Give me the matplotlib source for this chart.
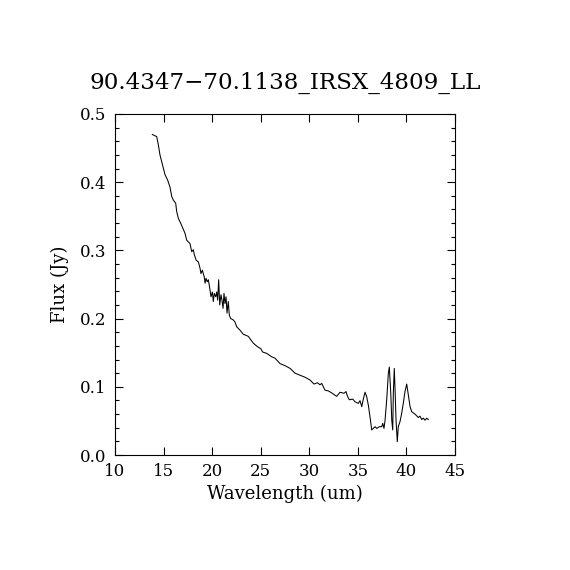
import matplotlib
matplotlib.use("Agg")
import matplotlib.pyplot as plt
from matplotlib.ticker import MultipleLocator

# spectrum
wavelength = [13.84, 14.12, 14.29, 14.46, 14.63, 14.81, 14.97, 15.15, 15.42, 15.66,
              15.84, 16.00, 16.25, 16.35, 16.52, 16.79, 17.21, 17.38, 17.72, 17.90,
              18.06, 18.16, 18.34, 18.58, 18.75, 18.85, 18.99, 19.19, 19.27, 19.37,
              19.50, 19.61, 19.78, 19.88, 20.02, 20.12, 20.22, 20.37, 20.47, 20.57,
              20.67, 20.78, 20.91, 21.01, 21.12, 21.22, 21.32, 21.43, 21.53, 21.66,
              21.77, 21.91, 22.18, 22.35, 22.53, 22.87, 23.21, 23.72, 24.24, 24.65,
              25.00, 25.20, 25.62, 26.13, 26.47, 26.99, 27.50, 28.02, 28.53, 29.04,
              29.56, 30.07, 30.49, 30.83, 31.10, 31.28, 31.62, 31.96, 32.31, 32.82,
              33.16, 33.57, 33.78, 33.92, 34.12, 34.47, 34.71, 35.05, 35.22, 35.40,
              35.56, 35.74, 35.91, 36.08, 36.25, 36.43, 36.59, 36.77, 36.94, 37.21,
              37.46, 37.56, 37.69, 37.80, 37.97, 38.14, 38.24, 38.39, 38.49, 38.59,
              38.65, 38.75, 38.82, 38.93, 39.06, 39.16, 39.34, 39.51, 39.68, 39.85,
              40.03, 40.20, 40.37, 40.54, 40.88, 41.22, 41.40, 41.57, 41.74, 41.91,
              42.09, 42.25]
flux = [0.470, 0.468, 0.467, 0.455, 0.440, 0.430, 0.421, 0.411, 0.403, 0.393,
        0.379, 0.374, 0.369, 0.357, 0.347, 0.339, 0.325, 0.315, 0.310, 0.298,
        0.301, 0.294, 0.286, 0.283, 0.274, 0.266, 0.271, 0.261, 0.252, 0.259,
        0.254, 0.257, 0.242, 0.232, 0.239, 0.225, 0.237, 0.232, 0.239, 0.227,
        0.257, 0.220, 0.235, 0.227, 0.215, 0.237, 0.222, 0.232, 0.208, 0.225,
        0.205, 0.200, 0.198, 0.195, 0.188, 0.183, 0.177, 0.174, 0.164, 0.159,
        0.156, 0.151, 0.149, 0.144, 0.142, 0.134, 0.131, 0.127, 0.120, 0.117,
        0.114, 0.110, 0.104, 0.106, 0.103, 0.105, 0.095, 0.094, 0.091, 0.086,
        0.092, 0.0905, 0.093, 0.0865, 0.081, 0.082, 0.078, 0.0756, 0.0797, 0.0709,
        0.082, 0.092, 0.0855, 0.073, 0.056, 0.0367, 0.039, 0.0415, 0.039, 0.0415,
        0.0415, 0.0465, 0.039, 0.051, 0.081, 0.120, 0.129, 0.090, 0.051, 0.0367,
        0.090, 0.127, 0.100, 0.051, 0.0195, 0.0415, 0.049, 0.061, 0.076, 0.093,
        0.104, 0.088, 0.071, 0.0635, 0.060, 0.055, 0.057, 0.052, 0.054, 0.051,
        0.054, 0.052]

title = "90.4347\u221270.1138_IRSX_4809_LL"

plt.rcParams['font.family'] = ['DejaVu Serif']

fig = plt.figure(figsize=(5.7, 5.7), dpi=100)
ax = fig.add_axes([115/570, 115/570, 340/570, 341/570])

ax.plot(wavelength, flux, color='black', linewidth=0.75)

ax.set_xlim(10, 45)
ax.set_ylim(0, 0.5)
ax.xaxis.set_major_locator(MultipleLocator(5))
ax.yaxis.set_major_locator(MultipleLocator(0.1))
ax.yaxis.set_minor_locator(MultipleLocator(0.02))
ax.yaxis.set_major_formatter(matplotlib.ticker.FormatStrFormatter('%.1f'))
ax.tick_params(which='both', direction='in', top=True, right=True, labelsize=12, width=0.8)
ax.tick_params(which='major', length=6, pad=6)
ax.tick_params(which='minor', length=3)
for s in ax.spines.values():
    s.set_linewidth(0.8)

ax.set_xlabel("Wavelength (um)", fontsize=13, labelpad=3)
ax.set_ylabel("Flux (Jy)", fontsize=13, labelpad=8)
fig.text(0.5, 1 - 83/570, title, ha='center', va='center', fontsize=16.6)

fig.savefig("out.png", dpi=100, facecolor='white')
